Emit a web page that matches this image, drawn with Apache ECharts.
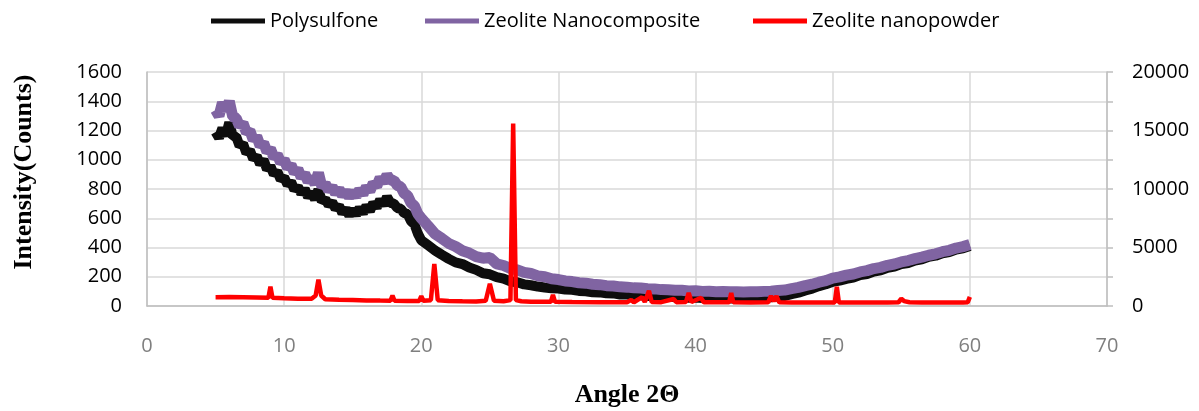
<!DOCTYPE html>
<html>
<head>
<meta charset="utf-8">
<script src="https://cdn.jsdelivr.net/npm/echarts@6/dist/echarts.min.js"></script>
<style>
  html, body { margin: 0; padding: 0; background: #fff; }
  #chart { width: 1199px; height: 411px; }
</style>
</head>
<body>
<div id="chart"></div>
<script>
// 2θ positions shared by the two film patterns
const angles = [
  5, 5.25, 5.5, 5.75, 6, 6.25, 6.5, 6.75, 7, 7.25, 7.5, 7.75, 8, 8.25, 8.5, 8.75,
  9, 9.25, 9.5, 9.75, 10, 10.25, 10.5, 10.75, 11, 11.25, 11.5, 11.75, 12, 12.25, 12.5, 12.75,
  13, 13.25, 13.5, 13.75, 14, 14.25, 14.5, 14.75, 15, 15.25, 15.5, 15.75, 16, 16.25, 16.5, 16.75,
  17, 17.25, 17.5, 17.75, 18, 18.25, 18.5, 18.75, 19, 19.25, 19.5, 19.75, 20,
  20.5, 21, 21.5, 22, 22.5, 23, 23.5, 24, 24.5, 25, 25.5, 26, 26.5, 27, 27.5, 28, 28.5, 29, 29.5, 30,
  30.5, 31, 31.5, 32, 32.5, 33, 33.5, 34, 34.5, 35, 35.5, 36, 36.5, 37, 37.5, 38, 38.5, 39, 39.5, 40,
  40.5, 41, 41.5, 42, 42.5, 43, 43.5, 44, 44.5, 45, 45.5, 46, 46.5, 47, 47.5, 48, 48.5, 49, 49.5, 50,
  50.5, 51, 51.5, 52, 52.5, 53, 53.5, 54, 54.5, 55, 55.5, 56, 56.5, 57, 57.5, 58, 58.5, 59, 59.5, 60
];

const polysulfone = [
  1190, 1150, 1215, 1165, 1255, 1160, 1160, 1095, 1110, 1045, 1065, 1005, 1025, 970, 1000, 935,
  955, 900, 920, 865, 880, 830, 850, 795, 815, 770, 800, 745, 775, 730, 795, 715,
  730, 690, 710, 665, 685, 635, 665, 620, 660, 625, 670, 635, 685, 650, 705, 675,
  725, 690, 745, 705, 700, 670, 665, 635, 630, 580, 560, 495, 450,
  415, 380, 350, 322, 298, 287, 263, 247, 224, 217, 198, 187, 168, 162, 148, 142, 133, 127, 122, 120,
  113, 111, 103, 101, 94, 93, 87, 86, 79, 78, 74, 73, 69, 69, 64, 64, 59, 61, 57, 58,
  54, 56, 52, 53, 51, 53, 51, 54, 54, 58, 59, 64, 69, 81, 91, 106, 119, 136, 149, 166,
  174, 186, 194, 211, 219, 236, 244, 261, 269, 286, 294, 311, 319, 336, 344, 361, 369, 386, 394, 410
];

const nanocomposite = [
  1340, 1300, 1390, 1335, 1400, 1295, 1285, 1230, 1250, 1185, 1200, 1135, 1160, 1095, 1115, 1055,
  1075, 1015, 1035, 980, 1000, 945, 965, 910, 935, 880, 905, 850, 880, 835, 910, 815,
  835, 790, 815, 770, 800, 755, 785, 745, 780, 750, 795, 765, 815, 785, 840, 820,
  875, 845, 895, 860, 860, 825, 815, 770, 755, 705, 685, 630, 600,
  548, 493, 462, 428, 407, 378, 362, 338, 327, 332, 288, 277, 256, 247, 230, 222, 206, 200, 186, 181,
  171, 167, 159, 156, 149, 146, 139, 137, 131, 129, 124, 123, 118, 117, 112, 111, 107, 107, 103, 104,
  100, 101, 98, 99, 97, 98, 96, 98, 97, 100, 101, 106, 109, 119, 127, 139, 149, 163, 174, 191,
  199, 211, 219, 233, 242, 256, 264, 278, 287, 301, 311, 324, 334, 347, 357, 371, 381, 396, 406, 420
];

// powder pattern, right-hand axis
const powderAngle = [
  5, 6, 7, 8, 8.85, 9, 9.15, 10, 11, 12, 12.3, 12.5, 12.7, 13, 14, 15, 16, 17,
  17.75, 17.9, 18.05, 19, 19.85, 20, 20.15, 20.7, 20.95, 21.2, 22, 23, 24, 24.7, 25, 25.3,
  26, 26.5, 26.7, 26.9, 27.3, 28, 29, 29.45, 29.6, 29.75, 31, 33, 35, 35.3, 35.5, 36.1, 36.3,
  36.6, 36.8, 37.5, 38.4, 38.6, 39.3, 39.5, 39.7, 40.4, 40.6, 41.5, 42.45, 42.6, 42.75, 44,
  45.3, 45.5, 45.7, 45.9, 46.1, 47, 48, 49, 50.15, 50.3, 50.45, 52, 54, 54.8, 55, 55.2, 55.6,
  56.5, 58, 59.5, 59.85, 60
];
const powderCounts = [
  750, 760, 740, 720, 700, 1650, 700, 660, 630, 620, 900, 2250, 900, 580, 540, 510, 480, 460,
  450, 880, 450, 430, 430, 850, 450, 500, 3600, 500, 420, 400, 390, 450, 1900, 450,
  400, 500, 15600, 500, 400, 370, 360, 360, 950, 360, 340, 330, 320, 520, 320, 760, 340,
  1300, 340, 330, 600, 330, 350, 1120, 340, 700, 320, 310, 320, 1120, 310, 300,
  320, 860, 420, 850, 310, 300, 290, 290, 300, 1650, 300, 290, 290, 320, 620, 420, 320,
  290, 290, 290, 330, 780
];

const leftTicks = [0, 1600, 200];
const rightTicks = [0, 20000, 5000];
const angleTicks = [0, 70, 10];

const pair = (xs, ys) => xs.map((x, i) => [x, ys[i]]);

const chart = echarts.init(document.getElementById('chart'));
const fontSans = '"Open Sans", sans-serif';
const fontSerif = '"Liberation Serif", "Times New Roman", serif';

const legendBase = {
  top: 6,
  icon: 'rect',
  itemWidth: 54,
  itemHeight: 5,
  textStyle: { fontFamily: fontSans, fontSize: 20, color: '#000' }
};

chart.setOption({
  animation: false,
  backgroundColor: '#fff',
  legend: [
    Object.assign({ left: 206, data: ['Polysulfone'] }, legendBase),
    Object.assign({ left: 420, data: ['Zeolite Nanocomposite'] }, legendBase),
    Object.assign({ left: 748, data: ['Zeolite nanopowder'] }, legendBase)
  ],
  grid: { left: 147, right: 92, top: 72, bottom: 105, outerBoundsMode: 'none' },
  xAxis: {
    type: 'value',
    min: angleTicks[0], max: angleTicks[1], interval: angleTicks[2],
    name: 'Angle 2Θ',
    nameLocation: 'middle',
    nameGap: 76,
    nameTextStyle: { fontFamily: fontSerif, fontWeight: 'bold', fontSize: 26, color: '#000' },
    axisLine: { lineStyle: { color: '#bfbfbf', width: 1.5 } },
    axisTick: { show: false },
    axisLabel: { fontFamily: fontSans, fontSize: 20, color: '#7f7f7f', margin: 30 },
    splitLine: { show: true, lineStyle: { color: '#d9d9d9', width: 1.5 } }
  },
  yAxis: [
    {
      type: 'value',
      min: leftTicks[0], max: leftTicks[1], interval: leftTicks[2],
      name: 'Intensity(Counts)',
      nameLocation: 'middle',
      nameGap: 110,
      nameTextStyle: { fontFamily: fontSerif, fontWeight: 'bold', fontSize: 26, color: '#000', padding: [0, 0, 0, 34] },
      axisLine: { show: true, lineStyle: { color: '#bfbfbf', width: 1.5 } },
      axisTick: { show: false },
      axisLabel: { fontFamily: fontSans, fontSize: 20, color: '#000', margin: 25, formatter: v => String(v) },
      splitLine: { show: true, lineStyle: { color: '#d9d9d9', width: 1.5 } }
    },
    {
      type: 'value',
      position: 'right',
      min: rightTicks[0], max: rightTicks[1], interval: rightTicks[2],
      axisLine: { show: true, lineStyle: { color: '#bfbfbf', width: 1.5 } },
      axisTick: { show: true, length: 6, lineStyle: { color: '#bfbfbf', width: 1.5 } },
      minorTick: { show: true, splitNumber: 2, length: 6, lineStyle: { color: '#bfbfbf', width: 1.5 } },
      axisLabel: { fontFamily: fontSans, fontSize: 20, color: '#000', margin: 25, formatter: v => String(v) },
      splitLine: { show: false }
    }
  ],
  series: [
    {
      name: 'Polysulfone',
      type: 'line',
      yAxisIndex: 0,
      showSymbol: false,
      symbol: 'none',
      color: '#0d0d0d',
      lineStyle: { width: 10, color: '#0d0d0d' },
      data: pair(angles, polysulfone)
    },
    {
      name: 'Zeolite Nanocomposite',
      type: 'line',
      yAxisIndex: 0,
      showSymbol: false,
      symbol: 'none',
      color: '#8064a2',
      lineStyle: { width: 11, color: '#8064a2' },
      data: pair(angles, nanocomposite)
    },
    {
      name: 'Zeolite nanopowder',
      type: 'line',
      yAxisIndex: 1,
      showSymbol: false,
      symbol: 'none',
      color: '#ff0000',
      lineStyle: { width: 4.5, color: '#ff0000' },
      data: pair(powderAngle, powderCounts)
    }
  ]
});
</script>
</body>
</html>
